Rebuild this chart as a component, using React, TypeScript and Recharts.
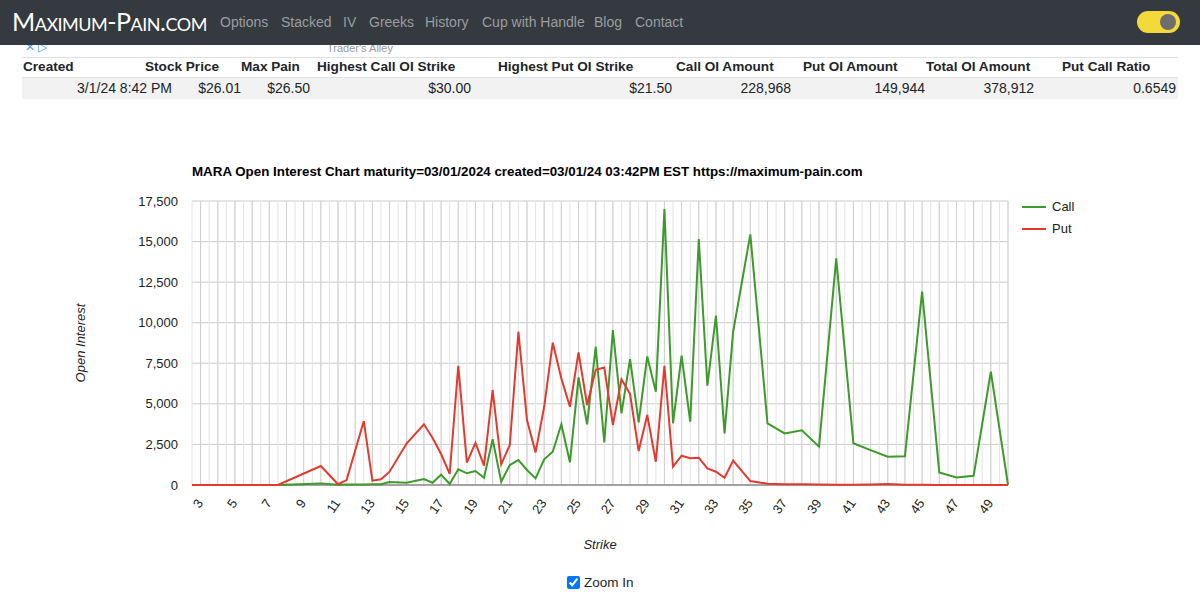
import React from 'react';
import { CartesianGrid, Line, LineChart, ReferenceLine, XAxis, YAxis } from 'recharts';

// strikes and open interest
const strikes = [
  2.5, 3, 4, 5, 6, 7, 7.5, 10, 11, 11.5, 12.5, 13, 13.5, 14, 15, 16, 16.5, 17, 17.5, 18, 18.5, 19, 19.5,
  20, 20.5, 21, 21.5, 22, 22.5, 23, 23.5, 24, 24.5, 25, 25.5, 26, 26.5, 27, 27.5, 28, 28.5, 29, 29.5,
  30, 30.5, 31, 31.5, 32, 32.5, 33, 33.5, 34, 35, 36, 37, 38, 39, 40, 41, 42, 43, 44, 45, 46, 47, 48, 49, 50,
];
const callOI = [
  0, 0, 0, 0, 0, 0, 0, 100, 10, 30, 30, 40, 50, 185, 140, 370, 140, 635, 60, 965, 720, 860, 450,
  2815, 205, 1230, 1540, 925, 410, 1580, 2050, 3740, 1400, 6630, 3740, 8520, 2630, 9550, 4415, 7760, 3860, 7925, 5750,
  17000, 3800, 7965, 3900, 15150, 6120, 10430, 3180, 9445, 15440, 3800, 3180, 3370, 2360, 13960, 2570, 2150, 1745, 1765, 11910, 770, 460, 565, 6980, 0,
];
const putOI = [
  0, 0, 0, 0, 0, 0, 0, 1170, 50, 300, 3940, 265, 350, 820, 2570, 3740, 2915, 1910, 680, 7350, 1375, 2600, 1190,
  5850, 1275, 2465, 9445, 4000, 2010, 4820, 8770, 6570, 4820, 8170, 4930, 7100, 7240, 3700, 6510, 5600, 2095, 4310, 1435,
  7350, 1130, 1805, 1645, 1680, 1025, 820, 450, 1500, 245, 80, 50, 50, 30, 20, 20, 30, 60, 20, 10, 5, 5, 5, 5, 5,
];

const xLabels = [3, 5, 7, 9, 11, 13, 15, 17, 19, 21, 23, 25, 27, 29, 31, 33, 35, 37, 39, 41, 43, 45, 47, 49];
const yTicks = [0, 2500, 5000, 7500, 10000, 12500, 15000, 17500];

const navLinks = ['Options', 'Stacked', 'IV', 'Greeks', 'History', 'Cup with Handle', 'Blog', 'Contact'];
const navLeft = [220, 281, 343, 369, 425, 482, 594, 635];

const tableHeaders = [
  'Created', 'Stock Price', 'Max Pain', 'Highest Call OI Strike', 'Highest Put OI Strike',
  'Call OI Amount', 'Put OI Amount', 'Total OI Amount', 'Put Call Ratio',
];
const headerLeft = [23, 145, 241, 317, 498, 676, 803, 926, 1062];
const tableValues = ['3/1/24 8:42 PM', '$26.01', '$26.50', '$30.00', '$21.50', '228,968', '149,944', '378,912', '0.6549'];
const valueRight = [172, 241, 310, 471, 672, 791, 925, 1034, 1176];

const data = strikes.map((s, i) => ({ strike: s, call: callOI[i], put: putOI[i] }));

// gridlines every half strike, darker on whole strikes
const halfSteps: number[] = [];
for (let v = 2.5; v <= 50; v += 0.5) halfSteps.push(v);
const wholeSteps = halfSteps.filter((v) => Number.isInteger(v));

const FONT = 'Arial, "Liberation Sans", sans-serif';
const CALL = '#3d9a2b';
const PUT = '#e33a2f';

const XTick = ({ x, y, payload }: any) => {
  if (!xLabels.includes(payload.value)) return null;
  return (
    <text
      transform={`translate(${x + 3},${y + 18}) rotate(-55)`}
      textAnchor="end"
      fontSize={13}
      fontFamily={FONT}
      fill="#222"
    >
      {payload.value}
    </text>
  );
};

const YTick = ({ x, y, payload }: any) => (
  <text x={x} y={y} dy={4.5} textAnchor="end" fontSize={13} fontFamily={FONT} fill="#222">
    {payload.value.toLocaleString('en-US')}
  </text>
);

export default function App() {
  return (
    <div style={{ position: 'absolute', left: 0, top: 0, width: 1200, height: 600, background: '#fff', fontFamily: FONT, overflow: 'hidden' }}>
      {/* small text peeking below the navbar */}
      <div style={{ position: 'absolute', left: 25, top: 40, fontSize: 12, color: '#4aa3df' }}>✕ ▷</div>
      <div style={{ position: 'absolute', left: 327, top: 42, fontSize: 11, color: '#999' }}>Trader's Alley</div>

      {/* navbar */}
      <div style={{ position: 'absolute', left: 0, top: 0, width: 1200, height: 45, background: '#343a40' }}>
        <div style={{ position: 'absolute', left: 12, top: 6, fontSize: 25, color: '#fff', fontFamily: 'Lato', fontVariant: 'small-caps', letterSpacing: -0.5 }}>
          Maximum-Pain.com
        </div>
        {navLinks.map((t, i) => (
          <div key={t} style={{ position: 'absolute', left: navLeft[i], top: 14, fontSize: 14, color: '#9a9da1', whiteSpace: 'nowrap' }}>
            {t}
          </div>
        ))}
        <div style={{ position: 'absolute', left: 1137, top: 11, width: 43, height: 22, borderRadius: 11, background: '#f4d93b' }}>
          <div style={{ position: 'absolute', left: 23, top: 3, width: 16, height: 16, borderRadius: 8, background: '#6d6d6d' }} />
        </div>
      </div>

      {/* summary table */}
      <div style={{ position: 'absolute', left: 22, top: 57, width: 1156, height: 1, background: '#dee2e6' }} />
      <div style={{ position: 'absolute', left: 22, top: 77, width: 1156, height: 21, background: '#f2f2f2', borderTop: '1px solid #dee2e6' }} />
      {tableHeaders.map((t, i) => (
        <div key={t} style={{ position: 'absolute', left: headerLeft[i], top: 59, fontSize: 13.6, fontWeight: 700, color: '#212529', whiteSpace: 'nowrap' }}>
          {t}
        </div>
      ))}
      {tableValues.map((t, i) => (
        <div key={i} style={{ position: 'absolute', right: 1200 - valueRight[i], top: 80, fontSize: 14, color: '#212529', whiteSpace: 'nowrap' }}>
          {t}
        </div>
      ))}

      {/* chart */}
      <div style={{ position: 'absolute', left: 192, top: 164, fontSize: 13.35, fontWeight: 700, color: '#000', whiteSpace: 'nowrap' }}>
        MARA Open Interest Chart maturity=03/01/2024 created=03/01/24 03:42PM EST https://maximum-pain.com
      </div>
      <div style={{ position: 'absolute', left: 0, top: 0 }}>
        <LineChart width={1200} height={600} data={data} margin={{ top: 201, right: 192, bottom: 85, left: 132 }}>
          <CartesianGrid vertical={false} stroke="#cccccc" />
          <CartesianGrid horizontal={false} stroke="#e4e4e4" />
          {wholeSteps.map((v) => (
            <ReferenceLine key={v} x={v} stroke="#cfcfcf" strokeWidth={1} />
          ))}
          <XAxis
            dataKey="strike"
            type="number"
            domain={[2.5, 50]}
            ticks={halfSteps}
            interval={0}
            height={30}
            axisLine={false}
            tickLine={false}
            tickSize={0}
            tickMargin={0}
            tick={<XTick />}
          />
          <YAxis
            type="number"
            domain={[0, 17500]}
            ticks={yTicks}
            width={60}
            axisLine={false}
            tickLine={false}
            tickSize={0}
            tickMargin={14}
            tick={<YTick />}
          />
          <ReferenceLine y={0} stroke="#8c8c8c" strokeWidth={1.5} />
          <Line type="linear" dataKey="call" stroke={CALL} strokeWidth={2} dot={false} isAnimationActive={false} />
          <Line type="linear" dataKey="put" stroke={PUT} strokeWidth={2} dot={false} isAnimationActive={false} />
        </LineChart>
      </div>

      {/* axis titles */}
      <div style={{ position: 'absolute', left: 80, top: 343, transform: 'translate(-50%, -50%) rotate(-90deg)', fontSize: 13, fontStyle: 'italic', color: '#222', whiteSpace: 'nowrap' }}>
        Open Interest
      </div>
      <div style={{ position: 'absolute', left: 600, top: 544, transform: 'translate(-50%, -50%)', fontSize: 13, fontStyle: 'italic', color: '#222' }}>
        Strike
      </div>

      {/* legend */}
      {[
        { name: 'Call', color: CALL, y: 207 },
        { name: 'Put', color: PUT, y: 229 },
      ].map((l) => (
        <React.Fragment key={l.name}>
          <div style={{ position: 'absolute', left: 1022, top: l.y - 1, width: 24, height: 2, background: l.color }} />
          <div style={{ position: 'absolute', left: 1052, top: l.y - 8, fontSize: 13, color: '#222' }}>{l.name}</div>
        </React.Fragment>
      ))}

      {/* zoom toggle */}
      <label style={{ position: 'absolute', left: 564, top: 575, fontSize: 13.5, color: '#212529', display: 'flex', alignItems: 'center' }}>
        <input type="checkbox" checked readOnly style={{ margin: '0 4px 0 3px', width: 13, height: 13 }} />
        Zoom In
      </label>
    </div>
  );
}
